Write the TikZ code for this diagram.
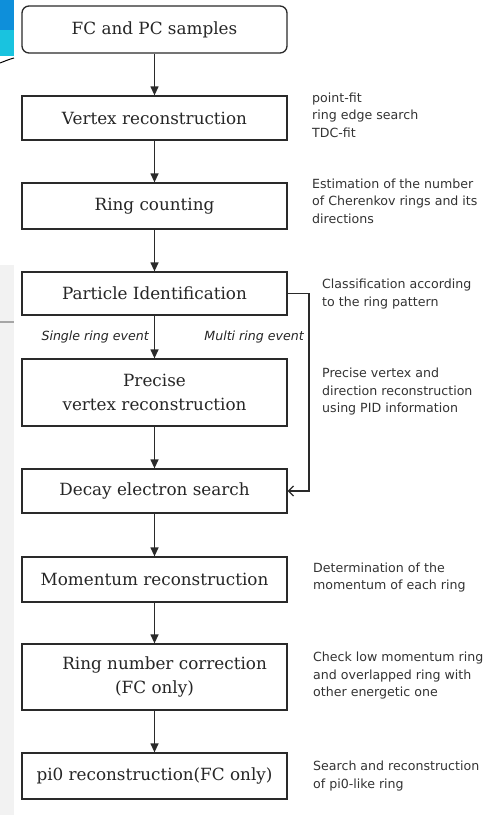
\documentclass[tikz,border=0pt]{standalone}
\usepackage{fontspec}
\setmainfont{DejaVu Serif}
\setsansfont{DejaVu Sans}
\usetikzlibrary{arrows.meta,positioning}
\definecolor{lineclr}{HTML}{2A2A2A}
\definecolor{noteclr}{HTML}{333333}
\definecolor{stripgray}{HTML}{F2F2F2}
\definecolor{blueA}{HTML}{0E8FDA}
\definecolor{blueB}{HTML}{19C3DF}
\tikzset{
  stepbox/.style={draw=lineclr, line width=1.3pt, minimum width=265pt, inner sep=2pt,
    font=\fontsize{16.8}{24}\selectfont, text=black!85, align=center},
  note/.style={font=\sffamily\fontsize{12.6}{17.5}\selectfont, text=noteclr, align=left, anchor=west, inner sep=0pt},
  branch/.style={font=\sffamily\itshape\fontsize{12.6}{14}\selectfont, text=black!85, anchor=east, inner sep=0pt},
  flow/.style={draw=lineclr, line width=1.3pt, -{Triangle[length=9pt,width=8pt]}},
  openflow/.style={draw=lineclr, line width=1.3pt, -{Straight Barb[length=5pt,width=10pt,line width=1.3pt]}}
}
\begin{document}
\begin{tikzpicture}[x=1pt,y=-1pt]
\useasboundingbox (0,0) rectangle (491,815);
% left background strip
\fill[white] (0,0) rectangle (491,815);
\fill[stripgray] (0,265) rectangle (14,815);
\fill[blueB] (0,0) rectangle (14,56);
\fill[blueA] (0,0) rectangle (14,30);
\draw[black, line width=1pt] (0,63) .. controls (5,61) and (10,59) .. (14,58);
\draw[gray!70, line width=1.5pt] (0,322) -- (14,322);

% boxes
\node[stepbox, rounded corners=7pt, minimum height=47pt] (b1) at (154.5,29.5) {FC and PC samples};
\node[stepbox, minimum height=44pt] (b2) at (154.5,118) {Vertex reconstruction};
\node[stepbox, minimum height=46pt] (b3) at (154.5,206) {Ring counting};
\node[stepbox, minimum height=43pt] (b4) at (154.5,293.5) {Particle Identification};
\node[stepbox, minimum height=67pt] (b5) at (154.5,392.5) {Precise\\vertex reconstruction};
\node[stepbox, minimum height=44pt] (b6) at (154.5,491) {Decay electron search};
\node[stepbox, minimum height=45pt] (b7) at (154.5,579.5) {Momentum reconstruction};
\node[stepbox, minimum height=66pt] (b8) at (154.5,677) {\hspace*{1.2em}Ring number correction\\(FC only)};
\node[stepbox, minimum height=46pt] (b9) at (154.5,776) {pi0 reconstruction(FC only)};

% connectors
\draw[flow] (b1) -- (b2);
\draw[flow] (b2) -- (b3);
\draw[flow] (b3) -- (b4);
\draw[flow] (b4) -- (b5);
\draw[flow] (b5) -- (b6);
\draw[flow] (b6) -- (b7);
\draw[flow] (b7) -- (b8);
\draw[flow] (b8) -- (b9);
\coordinate (c1) at (309,293.5);
\coordinate (c2) at (309,491);
\draw[openflow] (b4.east) -- (c1) -- (c2) -- (b6.east);

% branch labels
\node[branch] (sre) at (149,337) {Single ring event};
\node[branch] (mre) at (304,337) {Multi ring event};

% side notes
\node[note] (n1) at (312,115) {point-fit\\ring edge search\\TDC-fit};
\node[note] (n2) at (312,201) {Estimation of the number\\of Cherenkov rings and its\\directions};
\node[note] (n3) at (322,294) {Classification according\\to the ring pattern};
\node[note] (n4) at (322,392) {Precise vertex and\\direction reconstruction\\using PID information};
\node[note] (n5) at (313,577.5) {Determination of the\\momentum of each ring};
\node[note] (n6) at (313,676) {Check low momentum ring\\and overlapped ring with\\other energetic one};
\node[note] (n7) at (313,776) {Search and reconstruction\\of pi0-like ring};
\end{tikzpicture}
\end{document}
